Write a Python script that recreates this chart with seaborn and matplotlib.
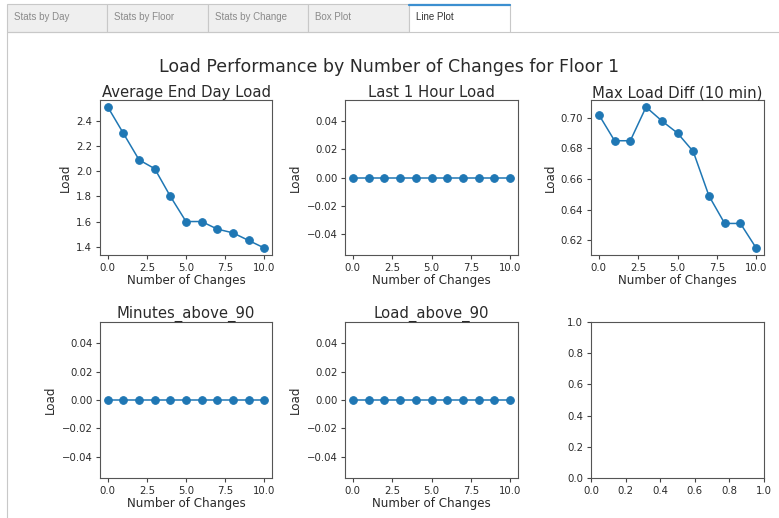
import matplotlib
matplotlib.use("Agg")
import matplotlib.pyplot as plt
import seaborn as sns
import pandas as pd
from matplotlib.patches import Rectangle
from matplotlib.lines import Line2D

# ---- data ----
changes = [0, 1, 2, 3, 4, 5, 6, 7, 8, 9, 10]
avg_end_day_load = [2.51, 2.30, 2.09, 2.02, 1.80, 1.60, 1.60, 1.54, 1.51, 1.45, 1.39]
last_1_hour_load = [0, 0, 0, 0, 0, 0, 0, 0, 0, 0, 0]
max_load_diff = [0.702, 0.685, 0.685, 0.707, 0.698, 0.690, 0.678, 0.649, 0.631, 0.631, 0.615]
minutes_above_90 = [0, 0, 0, 0, 0, 0, 0, 0, 0, 0, 0]
load_above_90 = [0, 0, 0, 0, 0, 0, 0, 0, 0, 0, 0]

titles = ["Average End Day Load", "Last 1 Hour Load", "Max Load Diff (10 min)",
          "Minutes_above_90", "Load_above_90"]
series = [avg_end_day_load, last_1_hour_load, max_load_diff, minutes_above_90, load_above_90]
tab_names = ["Stats by Day", "Stats by Floor", "Stats by Change", "Box Plot", "Line Plot"]
suptitle = "Load Performance by Number of Changes for Floor 1"

sns.set_style("ticks")
plt.rcParams["font.family"] = ["DejaVu Sans"]
TXT = "#2a2a2a"
plt.rcParams.update({
    "text.color": TXT, "axes.labelcolor": TXT, "xtick.color": "#444",
    "ytick.color": "#444", "xtick.labelcolor": TXT, "ytick.labelcolor": TXT,
    "axes.edgecolor": "#555", "axes.linewidth": 0.8,
    "xtick.major.size": 3, "ytick.major.size": 3,
})

W, H = 779, 518
fig = plt.figure(figsize=(W / 100, H / 100), dpi=100)
fig.patch.set_facecolor("white")

def fx(px):
    return px / W

def fy(py):
    return 1 - py / H

# ---- tab bar ----
tab_x = [7, 107, 208, 308, 409, 510]
for i, name in enumerate(tab_names):
    x0, x1 = tab_x[i], tab_x[i + 1]
    selected = (i == len(tab_names) - 1)
    fig.add_artist(Rectangle((fx(x0), fy(32)), fx(x1 - x0), (32 - 4) / H,
                             transform=fig.transFigure,
                             facecolor="white" if selected else "#efefef",
                             edgecolor="#c8c8c8", linewidth=0.8))
    if selected:
        fig.add_artist(Line2D([fx(x0), fx(x1)], [fy(4.5), fy(4.5)],
                              transform=fig.transFigure, color="#3c8fd0", linewidth=1.6))
    fig.text(fx(x0 + 7), fy(17.5), name, family="Liberation Sans", fontsize=7,
             color="#333" if selected else "#8a8a8a", va="center", ha="left")
# panel border
fig.add_artist(Line2D([fx(7), fx(409)], [fy(32), fy(32)], transform=fig.transFigure,
                      color="#c8c8c8", linewidth=0.8))
fig.add_artist(Line2D([fx(510), fx(779)], [fy(32), fy(32)], transform=fig.transFigure,
                      color="#c8c8c8", linewidth=0.8))
fig.add_artist(Line2D([fx(7), fx(7)], [fy(32), 0], transform=fig.transFigure,
                      color="#c8c8c8", linewidth=0.8))

fig.text(0.5, fy(67), suptitle, ha="center", va="center", fontsize=12.5)

# ---- axes ----
cols = [(100, 272), (345, 518), (591, 764)]
rows = [(100, 255), (322, 478)]
axes = []
for r in rows:
    for c in cols:
        ax = fig.add_axes([fx(c[0]), fy(r[1]), fx(c[1] - c[0]), (r[1] - r[0]) / H])
        axes.append(ax)

for ax, title, vals in zip(axes[:5], titles, series):
    df = pd.DataFrame({"Number of Changes": changes, "Load": vals})
    sns.lineplot(data=df, x="Number of Changes", y="Load", ax=ax, marker="o",
                 color="#1f77b4", markersize=5.5, markeredgecolor="#1f77b4",
                 linewidth=1.1)
    ax.set_title(title, fontsize=10.7, pad=1)
    ax.set_xlabel("Number of Changes", fontsize=8.6, labelpad=1)
    ax.set_ylabel("Load", fontsize=8.6, labelpad=3)
    ax.set_xticks([0, 2.5, 5, 7.5, 10])
    ax.tick_params(labelsize=7.3, pad=2.5)
    if max(vals) == 0 and min(vals) == 0:
        ax.set_ylim(-0.055, 0.055)
        ax.set_yticks([-0.04, -0.02, 0, 0.02, 0.04])
    ax.set_xlim(-0.5, 10.5)

axes[5].tick_params(labelsize=7.3, pad=2.5)
axes[5].set_xticks([0, 0.2, 0.4, 0.6, 0.8, 1.0])
axes[5].set_yticks([0, 0.2, 0.4, 0.6, 0.8, 1.0])

fig.savefig("out.png", dpi=100)
